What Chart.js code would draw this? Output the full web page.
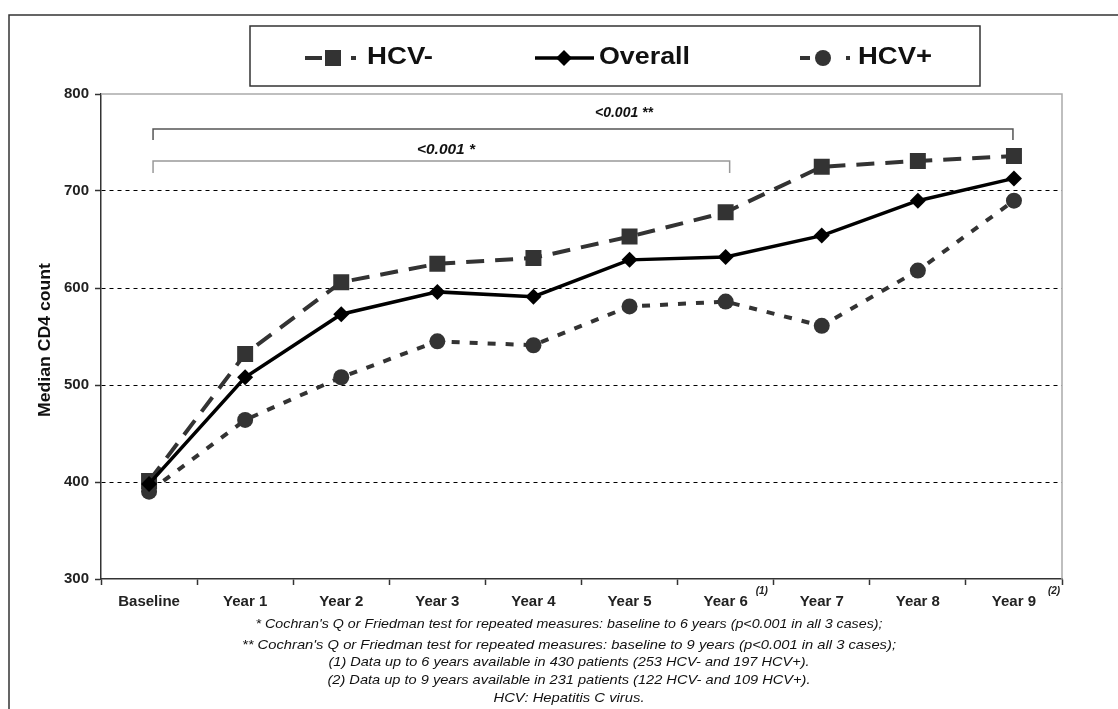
<!DOCTYPE html>
<html><head><meta charset="utf-8">
<script src="https://cdn.jsdelivr.net/npm/chart.js@4.4.0/dist/chart.umd.min.js"></script>
<style>html,body{margin:0;padding:0;background:#fff;}canvas{display:block;}</style>
</head><body>
<canvas id="c" width="1118" height="709"></canvas>
<script>
const categories = ['Baseline','Year 1','Year 2','Year 3','Year 4','Year 5','Year 6','Year 7','Year 8','Year 9'];
const hcvNeg  = [401,532,606,625,631,653,678,725,731,736];
const overall = [398,508,573,596,591,629,632,654,690,713];
const hcvPos  = [390,464,508,545,541,581,586,561,618,690];
const yTicks = [300,400,500,600,700,800];
const seriesNames = ['HCV-','Overall','HCV+'];
const yTitle = 'Median CD4 count';
const bracketLabels = ['<0.001 **','<0.001 *'];
const tickNotes = ['(1)','(2)'];
const tickNoteIdx = [6,9];
const footnotes = [
  "* Cochran's Q or Friedman test for repeated measures: baseline to 6 years (p<0.001 in all 3 cases);",
  "** Cochran's Q or Friedman test for repeated measures: baseline to 9 years (p<0.001 in all 3 cases);",
  "(1) Data up to 6 years available in 430 patients (253 HCV- and 197 HCV+).",
  "(2) Data up to 9 years available in 231 patients (122 HCV- and 109 HCV+).",
  "HCV: Hepatitis C virus."
];

const FONT = "'Liberation Sans', Arial, sans-serif";

function fitText(ctx, text, left, y, width) {
  const w0 = ctx.measureText(text).width;
  const sx = width / w0;
  ctx.save();
  ctx.translate(left, y);
  ctx.scale(sx, 1);
  ctx.textAlign = 'left';
  ctx.fillText(text, 0, 0);
  ctx.restore();
}

const decor = {
  id: 'decor',
  afterDraw(chart) {
    const ctx = chart.ctx;
    const ca = chart.chartArea;
    const xs = chart.scales.x;
    ctx.save();
    // outer frame (top and left)
    ctx.strokeStyle = '#333'; ctx.lineWidth = 1.5;
    ctx.beginPath(); ctx.moveTo(9, 709); ctx.lineTo(9, 15); ctx.lineTo(1118, 15); ctx.stroke();
    // plot top / right border
    ctx.strokeStyle = '#aaa'; ctx.lineWidth = 1.5;
    ctx.beginPath(); ctx.moveTo(ca.left, ca.top); ctx.lineTo(ca.right, ca.top); ctx.lineTo(ca.right, ca.bottom); ctx.stroke();

    // brackets
    const x0 = xs.getPixelForValue(0) + 4;
    const x6 = xs.getPixelForValue(6) + 4;
    const x9 = xs.getPixelForValue(9) - 1;
    ctx.lineWidth = 1.5;
    ctx.strokeStyle = '#555';
    ctx.beginPath(); ctx.moveTo(x0, 140); ctx.lineTo(x0, 129); ctx.lineTo(x9, 129); ctx.lineTo(x9, 140); ctx.stroke();
    ctx.strokeStyle = '#999';
    ctx.beginPath(); ctx.moveTo(x0, 173); ctx.lineTo(x0, 161); ctx.lineTo(x6, 161); ctx.lineTo(x6, 173); ctx.stroke();
    ctx.fillStyle = '#111';
    ctx.font = 'italic bold 14px ' + FONT;
    ctx.textBaseline = 'middle';
    fitText(ctx, bracketLabels[0], 595, 113, 58);
    fitText(ctx, bracketLabels[1], 417, 150, 58);

    // tick notes
    ctx.font = 'italic bold 10px ' + FONT;
    ctx.fillStyle = '#222';
    ctx.textAlign = 'left';
    ctx.fillText(tickNotes[0], xs.getPixelForValue(tickNoteIdx[0]) + 30, 591);
    ctx.fillText(tickNotes[1], xs.getPixelForValue(tickNoteIdx[1]) + 34, 591);

    // y title
    ctx.save();
    ctx.translate(45, 340);
    ctx.rotate(-Math.PI / 2);
    ctx.font = 'bold 17px ' + FONT;
    ctx.fillStyle = '#111';
    ctx.textBaseline = 'middle';
    fitText(ctx, yTitle, -77, 0, 154);
    ctx.restore();

    // footnotes
    ctx.font = 'italic 13px ' + FONT;
    ctx.fillStyle = '#111';
    ctx.textBaseline = 'middle';
    const fy = [624, 645, 662, 680, 698];
    const fw = [627, 654, 481, 483, 151];
    const fc = 569;
    footnotes.forEach((t, i) => fitText(ctx, t, fc - fw[i] / 2, fy[i], fw[i]));

    // legend box
    ctx.strokeStyle = '#333'; ctx.lineWidth = 1.5;
    ctx.strokeRect(250, 26, 730, 60);
    const ly = 58;
    ctx.font = 'bold 23px ' + FONT;
    ctx.fillStyle = '#111';
    ctx.textBaseline = 'middle';
    // HCV-
    ctx.strokeStyle = '#333'; ctx.lineWidth = 4;
    ctx.beginPath(); ctx.moveTo(305, ly); ctx.lineTo(322, ly); ctx.stroke();
    ctx.beginPath(); ctx.moveTo(351, ly); ctx.lineTo(356, ly); ctx.stroke();
    ctx.fillStyle = '#333'; ctx.fillRect(325, ly - 8, 16, 16);
    ctx.fillStyle = '#111';
    fitText(ctx, seriesNames[0], 367, ly, 66);
    // Overall
    ctx.strokeStyle = '#000'; ctx.lineWidth = 3.5;
    ctx.beginPath(); ctx.moveTo(535, ly); ctx.lineTo(594, ly); ctx.stroke();
    ctx.fillStyle = '#000';
    ctx.beginPath(); ctx.moveTo(564 - 8, ly); ctx.lineTo(564, ly - 8); ctx.lineTo(564 + 8, ly); ctx.lineTo(564, ly + 8); ctx.closePath(); ctx.fill();
    ctx.fillStyle = '#111';
    fitText(ctx, seriesNames[1], 599, ly, 91);
    // HCV+
    ctx.strokeStyle = '#333'; ctx.lineWidth = 4;
    ctx.beginPath(); ctx.moveTo(800, ly); ctx.lineTo(810, ly); ctx.stroke();
    ctx.beginPath(); ctx.moveTo(846, ly); ctx.lineTo(850, ly); ctx.stroke();
    ctx.fillStyle = '#333';
    ctx.beginPath(); ctx.arc(823, ly, 8, 0, Math.PI * 2); ctx.fill();
    ctx.fillStyle = '#111';
    fitText(ctx, seriesNames[2], 858, ly, 74);
    ctx.restore();
  }
};

new Chart(document.getElementById('c'), {
  type: 'line',
  data: {
    labels: categories,
    datasets: [
      { label: seriesNames[1], data: overall, borderColor: '#000', backgroundColor: '#000', borderWidth: 3.5,
        pointStyle: 'rectRot', pointRadius: 8, pointBorderWidth: 0, pointHoverRadius: 8, tension: 0 },
      { label: seriesNames[0], data: hcvNeg, borderColor: '#333', backgroundColor: '#333', borderWidth: 4,
        borderDash: [18, 11], pointStyle: 'rect', pointRadius: 11.3, pointBorderWidth: 0, pointHoverRadius: 11.3, tension: 0 },
      { label: seriesNames[2], data: hcvPos, borderColor: '#333', backgroundColor: '#333', borderWidth: 4,
        borderDash: [8, 10], pointStyle: 'circle', pointRadius: 8, pointBorderWidth: 0, pointHoverRadius: 8, tension: 0 }
    ]
  },
  options: {
    responsive: false,
    animation: false,
    layout: { padding: { left: 0, top: 94, right: 56, bottom: 0 } },
    plugins: { legend: { display: false }, tooltip: { enabled: false }, title: { display: false } },
    scales: {
      x: {
        type: 'category',
        offset: true,
        afterFit: s => { s.height = 130; },
        grid: { offset: true, drawOnChartArea: false, tickLength: 6, tickColor: '#333', tickWidth: 1.5, color: '#333' },
        border: { color: '#333', width: 1.5 },
        ticks: { font: { family: FONT, size: 15, weight: 'bold' }, color: '#222', padding: 8, maxRotation: 0, autoSkip: false }
      },
      y: {
        min: 300, max: 800,
        afterFit: s => { s.width = 101; },
        afterBuildTicks: s => { s.ticks = yTicks.map(v => ({ value: v })); },
        grid: {
          color: c => (c.tick && c.tick.value > 300 && c.tick.value < 800) ? '#000' : 'rgba(0,0,0,0)',
          lineWidth: 1, tickLength: 6, tickColor: '#333', tickWidth: 1.5
        },
        border: { color: '#333', width: 1.5, dash: [4, 4] },
        ticks: { font: { family: FONT, size: 15, weight: 'bold' }, color: '#222', padding: 6 }
      }
    }
  },
  plugins: [decor]
});
</script>
</body></html>
